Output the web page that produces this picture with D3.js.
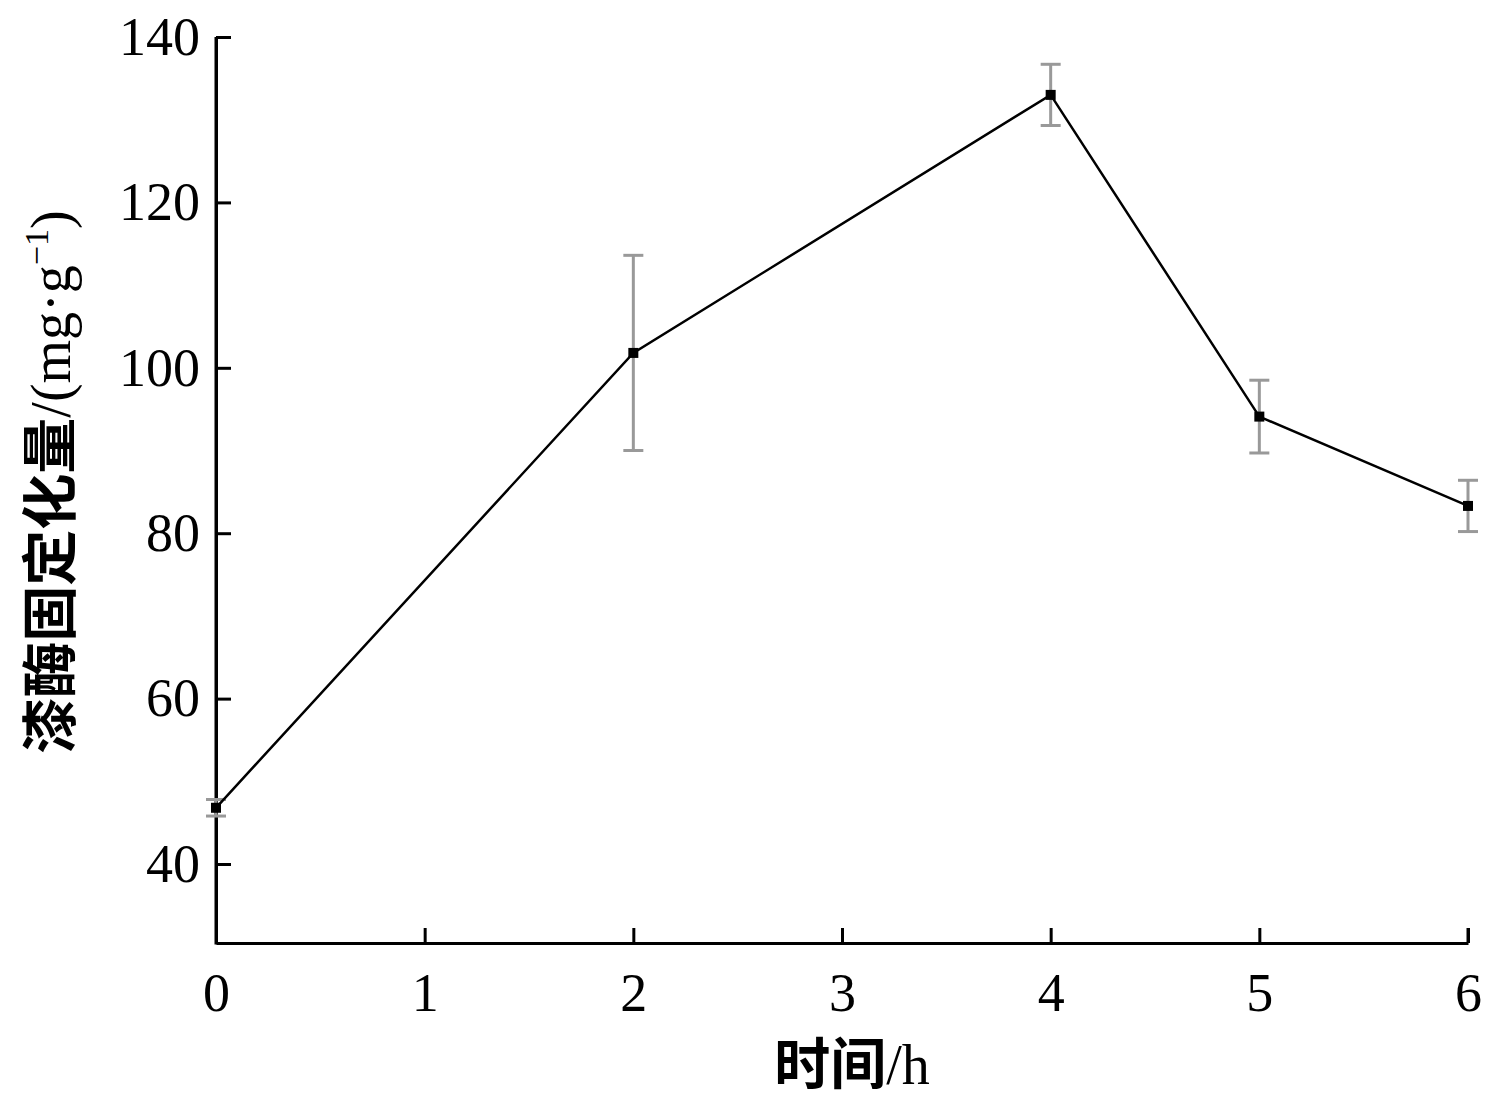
<!DOCTYPE html>
<html><head><meta charset="utf-8">
<script src="https://cdn.jsdelivr.net/npm/d3@7"></script>
<style>body{margin:0;background:#fff}</style>
</head><body>
<svg id="c" width="1500" height="1105"></svg>
<script>
const times = [0, 2, 4, 5, 6];
const values = [46.8, 101.8, 133.0, 94.1, 83.3];
const errors = [1.0, 11.8, 3.7, 4.4, 3.1];
const xTicks = [0, 1, 2, 3, 4, 5, 6];
const yTicks = [40, 60, 80, 100, 120, 140];

const svg = d3.select("#c");
const x = d3.scaleLinear().domain([0, 6]).range([216, 1468]);
const y = d3.scaleLinear().domain([30.45, 140]).range([943, 37]);

const serif = "'Liberation Serif','Times New Roman',serif";

const xAxis = svg.append("g").attr("transform", "translate(0,943)")
  .call(d3.axisBottom(x).tickValues(xTicks).tickFormat(d3.format("d")).tickSize(-15).tickSizeOuter(0));
const yAxis = svg.append("g").attr("transform", "translate(216,0)")
  .call(d3.axisLeft(y).tickValues(yTicks).tickFormat(d3.format("d")).tickSize(-15).tickSizeOuter(0).tickPadding(16));
[xAxis, yAxis].forEach(g => {
  g.select(".domain").attr("stroke", "#000").attr("stroke-width", 3);
  g.selectAll(".tick line").attr("stroke", "#000").attr("stroke-width", 3);
  g.selectAll("text").attr("font-family", serif).attr("font-size", 54).attr("fill", "#000");
});
xAxis.selectAll("text").attr("dy", "0.71em").attr("y", 30);
svg.append("line").attr("x1", 216).attr("x2", 216).attr("y1", 37).attr("y2", 944.5).attr("stroke", "#000").attr("stroke-width", 3);
svg.append("line").attr("x1", 1468).attr("x2", 1468).attr("y1", 943).attr("y2", 928).attr("stroke", "#000").attr("stroke-width", 3);

// error bars
const eg = svg.append("g").attr("stroke", "#999").attr("stroke-width", 3);
times.forEach((t, i) => {
  const cx = x(t), y1 = y(values[i] + errors[i]), y2 = y(values[i] - errors[i]);
  eg.append("line").attr("x1", cx).attr("x2", cx).attr("y1", y1).attr("y2", y2);
  eg.append("line").attr("x1", cx - 10).attr("x2", cx + 10).attr("y1", y1).attr("y2", y1);
  eg.append("line").attr("x1", cx - 10).attr("x2", cx + 10).attr("y1", y2).attr("y2", y2);
});

const line = d3.line().x((d, i) => x(times[i])).y(d => y(d));
svg.append("path").datum(values).attr("d", line).attr("fill", "none")
  .attr("stroke", "#000").attr("stroke-width", 2.5);

svg.append("g").selectAll("rect").data(values).join("rect")
  .attr("x", (d, i) => x(times[i]) - 5).attr("y", d => y(d) - 5)
  .attr("width", 10).attr("height", 10).attr("fill", "#000");

const cjk = "'Noto Sans CJK SC','Noto Sans',sans-serif";
const xt = svg.append("text").attr("x", 852).attr("y", 1084).attr("text-anchor", "middle")
  .attr("font-size", 56).attr("fill", "#000");
xt.append("tspan").attr("font-family", cjk).attr("font-weight", "bold").text("时间");
xt.append("tspan").attr("font-family", serif).text("/h");

const yt = svg.append("text").attr("transform", "translate(70,482) rotate(-90)")
  .attr("text-anchor", "middle").attr("font-size", 56).attr("fill", "#000");
yt.append("tspan").attr("font-family", cjk).attr("font-weight", "bold").text("漆酶固定化量");
yt.append("tspan").attr("font-family", serif).text("/(mg·g");
yt.append("tspan").attr("font-family", serif).attr("font-size", 34).attr("dy", -22).text("−1");
yt.append("tspan").attr("font-family", serif).attr("dy", 22).text(")");
</script>
</body></html>
